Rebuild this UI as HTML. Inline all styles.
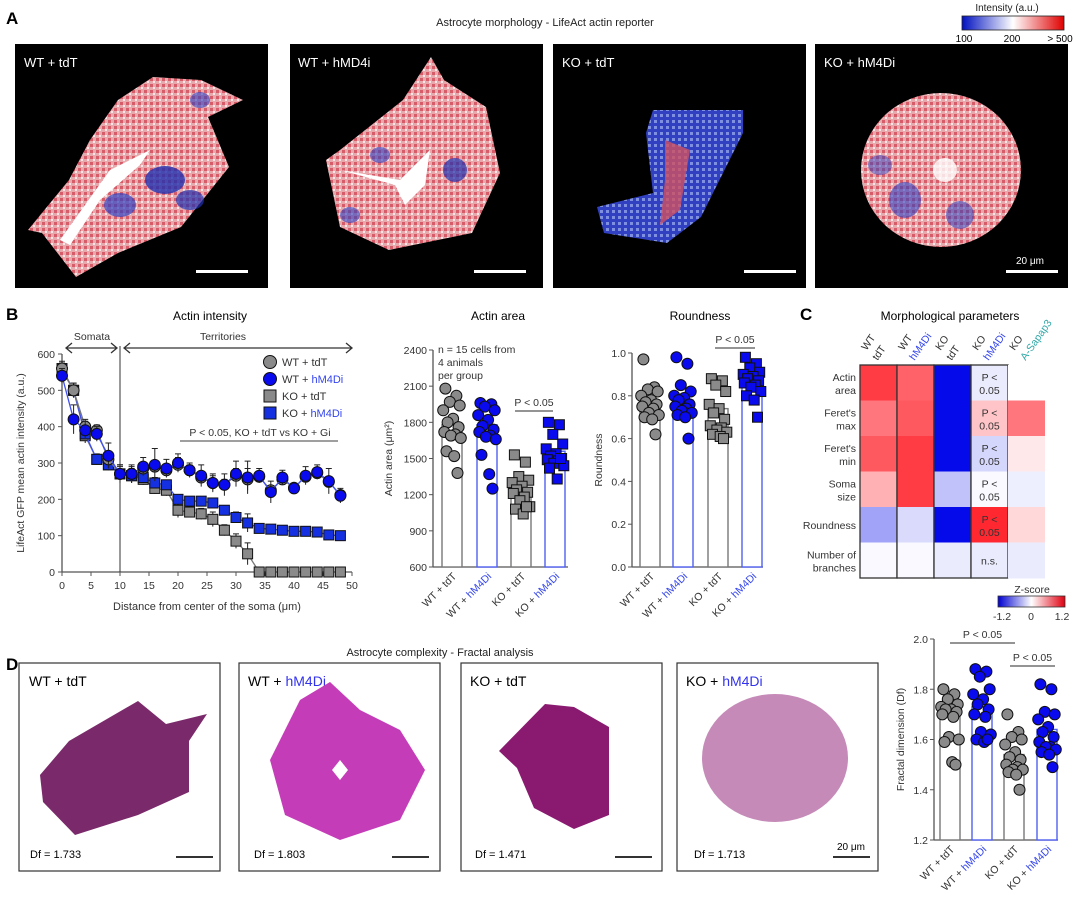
<!DOCTYPE html>
<html><head><meta charset="utf-8"><style>
body{margin:0;background:#fff;}
svg{display:block;font-family:"Liberation Sans",Arial,sans-serif;}
</style></head><body>
<svg id="fig" width="1080" height="909" viewBox="0 0 1080 909" xmlns="http://www.w3.org/2000/svg">
<defs>
<linearGradient id="intGrad" x1="0" x2="1"><stop offset="0" stop-color="#0010c0"/><stop offset="0.5" stop-color="#ffffff"/><stop offset="1" stop-color="#e00000"/></linearGradient>
<linearGradient id="zGrad" x1="0" x2="1"><stop offset="0" stop-color="#0000d0"/><stop offset="0.5" stop-color="#ffffff"/><stop offset="1" stop-color="#e00010"/></linearGradient>
<pattern id="actinPat" width="6" height="6" patternUnits="userSpaceOnUse"><rect width="6" height="6" fill="#e8a8ac"/><rect x="0" y="0" width="3" height="3" fill="#d55c68"/><rect x="3" y="3" width="2" height="2" fill="#f6e6e8"/></pattern>
<pattern id="bluePat" width="6" height="6" patternUnits="userSpaceOnUse"><rect width="6" height="6" fill="#3040c0"/><rect x="0" y="0" width="3" height="3" fill="#8090e0"/></pattern>
</defs>

<!-- Panel A -->
<g>
<text x="6" y="24" font-size="17" font-weight="bold">A</text>
<text x="545" y="26" font-size="11" text-anchor="middle" fill="#222">Astrocyte morphology - LifeAct actin reporter</text>
<text x="1007" y="11" font-size="10" text-anchor="middle" fill="#222">Intensity (a.u.)</text>
<rect x="962" y="16" width="102" height="14" fill="url(#intGrad)" stroke="#222" stroke-width="0.8"/>
<text x="964" y="42" font-size="10" text-anchor="middle">100</text>
<text x="1012" y="42" font-size="10" text-anchor="middle">200</text>
<text x="1060" y="42" font-size="10" text-anchor="middle">&gt; 500</text>

<rect x="15" y="44" width="253" height="244" fill="#000"/>
<rect x="290" y="44" width="253" height="244" fill="#000"/>
<rect x="553" y="44" width="253" height="244" fill="#000"/>
<rect x="815" y="44" width="253" height="244" fill="#000"/>
<text x="24" y="67" font-size="13" fill="#fff">WT + tdT</text>
<text x="298" y="67" font-size="13" fill="#fff">WT + hMD4i</text>
<text x="562" y="67" font-size="13" fill="#fff">KO + tdT</text>
<text x="824" y="67" font-size="13" fill="#fff">KO + hM4Di</text>

<g>
<polygon points="28,230 69,180 90,140 118,100 153,77 201,80 243,100 208,117 229,167 181,227 118,253 76,277 42,233" fill="url(#actinPat)"/>
<ellipse cx="165" cy="180" rx="20" ry="14" fill="#2030b0" opacity="0.8"/>
<ellipse cx="120" cy="205" rx="16" ry="12" fill="#3040c0" opacity="0.7"/>
<ellipse cx="190" cy="200" rx="14" ry="10" fill="#2030b0" opacity="0.7"/>
<ellipse cx="200" cy="100" rx="10" ry="8" fill="#3040c0" opacity="0.6"/>
<path d="M60,240 L110,170 L150,150 L140,165 L100,200 L70,245Z" fill="#fff"/>
</g>
<g>
<polygon points="326,160 340,150 403,100 431,57 444,80 486,107 500,173 472,233 389,250 340,227" fill="url(#actinPat)"/>
<ellipse cx="455" cy="170" rx="12" ry="12" fill="#2030b0" opacity="0.7"/>
<ellipse cx="380" cy="155" rx="10" ry="8" fill="#3040c0" opacity="0.6"/>
<ellipse cx="350" cy="215" rx="10" ry="8" fill="#3040c0" opacity="0.6"/>
<path d="M340,170 L400,180 L430,150 L425,185 L405,205 L395,185Z" fill="#fff"/>
</g>
<g>
<polygon points="653,110 743,110 743,133 701,217 667,243 604,233 597,207 653,193 646,133" fill="url(#bluePat)"/>
<path d="M665,140 L690,150 L680,210 L660,225 L665,180Z" fill="#d05060" opacity="0.8"/>
</g>
<g>
<ellipse cx="941" cy="170" rx="80" ry="77" fill="url(#actinPat)"/>
<ellipse cx="905" cy="200" rx="16" ry="18" fill="#3040c0" opacity="0.6"/>
<ellipse cx="960" cy="215" rx="14" ry="14" fill="#3040c0" opacity="0.55"/>
<ellipse cx="880" cy="165" rx="12" ry="10" fill="#3040c0" opacity="0.5"/>
<ellipse cx="945" cy="170" rx="12" ry="12" fill="#fff" opacity="0.8"/>
</g>
<rect x="196" y="270" width="52" height="3" fill="#fff"/>
<rect x="474" y="270" width="52" height="3" fill="#fff"/>
<rect x="744" y="270" width="52" height="3" fill="#fff"/>
<rect x="1006" y="270" width="52" height="3" fill="#fff"/>
<text x="1030" y="264" font-size="10" fill="#fff" text-anchor="middle">20 μm</text>
</g>

<!-- Panel labels B, C, D -->
<text x="6" y="320" font-size="17" font-weight="bold">B</text>
<text x="800" y="320" font-size="17" font-weight="bold">C</text>
<text x="6" y="670" font-size="17" font-weight="bold">D</text>

<g id="lineChart"></g>
<g id="areaChart"></g>
<g id="roundChart"></g>
<g id="heatmap"></g>
<g id="fractalChart"></g>

<!-- Panel D images -->
<g>
<text x="440" y="656" font-size="11" text-anchor="middle" fill="#222">Astrocyte complexity - Fractal analysis</text>
<rect x="19" y="663" width="201" height="208" fill="#fff" stroke="#333" stroke-width="1.2"/>
<rect x="239" y="663" width="201" height="208" fill="#fff" stroke="#333" stroke-width="1.2"/>
<rect x="461" y="663" width="201" height="208" fill="#fff" stroke="#333" stroke-width="1.2"/>
<rect x="677" y="663" width="201" height="208" fill="#fff" stroke="#333" stroke-width="1.2"/>
<text x="29" y="686" font-size="14">WT + tdT</text>
<text x="248" y="686" font-size="14">WT + <tspan fill="#3333ee">hM4Di</tspan></text>
<text x="470" y="686" font-size="14">KO + tdT</text>
<text x="686" y="686" font-size="14">KO + <tspan fill="#3333ee">hM4Di</tspan></text>
<polygon points="40,775 69,741 138,701 166,724 207,714 189,741 189,792 138,815 75,835 43,802" fill="#7a2a6a"/>
<g>
<path d="M270,760 L300,700 L330,682 L360,710 L400,730 L425,770 L400,820 L340,840 L285,815Z" fill="#c53cb8"/>
<polygon points="340,760 348,770 340,780 332,770" fill="#fff"/>
</g>
<polygon points="499,751 545,704 574,707 609,727 609,815 574,829 534,808 517,768" fill="#8a1a70"/>
<ellipse cx="775" cy="758" rx="73" ry="64" fill="#c58ab8"/>
<text x="30" y="858" font-size="11">Df = 1.733</text>
<text x="254" y="858" font-size="11">Df = 1.803</text>
<text x="475" y="858" font-size="11">Df = 1.471</text>
<text x="694" y="858" font-size="11">Df = 1.713</text>
<rect x="176" y="856" width="37" height="2" fill="#333"/>
<rect x="392" y="856" width="37" height="2" fill="#333"/>
<rect x="615" y="856" width="37" height="2" fill="#333"/>
<rect x="833" y="856" width="37" height="2" fill="#333"/>
<text x="851" y="850" font-size="10" text-anchor="middle">20 μm</text>
</g>
</svg>
<script>
// ---------- Data: line chart ----------
const distances = [0,2,4,6,8,10,12,14,16,18,20,22,24,26,28,30,32,34,36,38,40,42,44,46,48];
const wtTdt   = [560,500,400,390,310,270,270,285,290,280,295,280,260,245,240,265,255,262,225,255,232,262,272,248,212];
const wtHm4di = [540,420,390,380,320,270,270,290,295,285,300,280,265,245,240,270,260,265,220,260,230,265,275,250,210];
const koTdt   = [555,500,375,310,295,270,265,255,230,225,170,165,160,145,115,85,50,0,0,0,0,0,0,0,0];
const koHm4di = [560,500,380,310,295,270,265,260,245,240,200,195,195,190,170,150,135,120,118,115,112,112,110,102,100];
const wtHm4diErr = [20,40,25,20,35,25,25,25,45,25,25,20,30,25,30,35,45,20,30,20,15,25,20,35,20];
const koTdtErr = [20,20,20,15,15,25,20,15,15,15,20,15,15,20,15,20,30,0,0,0,0,0,0,0,0];
const koHm4diErr = [15,15,15,12,12,20,15,12,15,12,10,10,10,10,8,15,25,8,8,6,6,6,6,6,6];
const lineYTicks = [0,100,200,300,400,500,600];
const lineXTicks = [0,5,10,15,20,25,30,35,40,45,50];

// ---------- Data: bar/scatter charts ----------
const groups = ["WT + tdT","WT + hM4Di","KO + tdT","KO + hM4Di"];
const areaMeans = [1780,1780,1230,1560];
const areaWtTdt = [2080,2020,1970,1940,1900,1830,1800,1760,1720,1700,1690,1670,1560,1520,1380];
const areaWtHm4di = [1960,1950,1930,1900,1860,1820,1770,1740,1720,1690,1680,1660,1530,1370,1250];
const areaKoTdt = [1530,1470,1350,1320,1300,1270,1240,1220,1210,1180,1150,1100,1080,1040,1100];
const areaKoHm4di = [1800,1780,1700,1620,1580,1540,1520,1500,1490,1480,1460,1440,1420,1330,1500];
const areaTicks = [600,900,1200,1500,1800,2100,2400];

const roundMeans = [0.75,0.78,0.74,0.87];
const roundWtTdt = [0.97,0.84,0.83,0.82,0.80,0.78,0.77,0.76,0.75,0.74,0.72,0.71,0.70,0.69,0.62];
const roundWtHm4di = [0.98,0.95,0.85,0.82,0.80,0.79,0.78,0.76,0.75,0.74,0.73,0.72,0.71,0.70,0.60];
const roundKoTdt = [0.88,0.87,0.85,0.82,0.76,0.74,0.72,0.69,0.66,0.65,0.64,0.63,0.62,0.61,0.60];
const roundKoHm4di = [0.98,0.95,0.93,0.91,0.90,0.89,0.88,0.87,0.86,0.85,0.84,0.82,0.80,0.78,0.70];
const roundTicks = [0.0,0.2,0.4,0.6,0.8,1.0];

const fracMeans = [1.69,1.73,1.54,1.64];
const fracWtTdt = [1.80,1.78,1.76,1.74,1.73,1.72,1.72,1.71,1.70,1.69,1.61,1.60,1.59,1.51,1.50];
const fracWtHm4di = [1.88,1.87,1.85,1.80,1.78,1.76,1.74,1.72,1.70,1.69,1.63,1.62,1.60,1.59,1.60];
const fracKoTdt = [1.70,1.63,1.61,1.60,1.58,1.55,1.53,1.52,1.50,1.49,1.48,1.48,1.47,1.46,1.40];
const fracKoHm4di = [1.82,1.80,1.71,1.70,1.68,1.65,1.63,1.61,1.59,1.57,1.57,1.56,1.55,1.54,1.49];
const fracTicks = [1.2,1.4,1.6,1.8,2.0];

// ---------- Data: heatmap ----------
const hmColumns = [["WT","tdT"],["WT","hM4Di"],["KO","tdT"],["KO","hM4Di"],["KO","A-Sapap3"]];
const hmRows = [["Actin","area"],["Feret's","max"],["Feret's","min"],["Soma","size"],["Roundness"],["Number of","branches"]];
const zWtTdt = [1.0,0.7,0.85,0.4,-0.45,-0.03];
const zWtHm4di = [0.8,0.85,1.0,1.0,-0.18,-0.03];
const zKoTdt = [-1.2,-1.2,-1.2,-0.3,-1.2,-0.1];
const zKoHm4di = [-0.1,0.3,-0.2,-0.03,1.1,-0.1];
const zKoSapap3 = [0.0,0.7,0.12,-0.08,0.2,-0.1];
const hmCellText = ["P <\n0.05","P <\n0.05","P <\n0.05","P <\n0.05","P <\n0.05","n.s."];

const NS = "http://www.w3.org/2000/svg";
function mk(parent, tag, attrs, text){
  const e = document.createElementNS(NS, tag);
  for (const k in attrs) e.setAttribute(k, attrs[k]);
  if (text !== undefined) e.textContent = text;
  parent.appendChild(e);
  return e;
}
const BLUE = "#0a0aee", GRAY = "#8a8a8a", LBLUE="#4050ee";

// ---------- Line chart ----------
(function(){
  const g = document.getElementById("lineChart");
  const x = v => 62 + v/50*290;
  const y = v => 572 - v/600*218;
  let el;
  el = mk(g,"text",{x:210,y:320,"font-size":12,"text-anchor":"middle"},"Actin intensity");
  
  
  el = mk(g,"line",{x1:62,y1:354,x2:62,y2:572,stroke:"#555","stroke-width":1.3});
  
  
  el = mk(g,"line",{x1:62,y1:572,x2:352,y2:572,stroke:"#555","stroke-width":1.3});
  
  
  lineYTicks.forEach(t=>{
    el = mk(g,"line",{x1:58,y1:y(t),x2:62,y2:y(t),stroke:"#555"});
    
    
    el = mk(g,"text",{x:55,y:y(t)+4,"font-size":10.5,"text-anchor":"end",fill:"#333"},t);
    
    
  });
  lineXTicks.forEach(t=>{
    el = mk(g,"line",{x1:x(t),y1:572,x2:x(t),y2:576,stroke:"#555"});
    
    
    el = mk(g,"text",{x:x(t),y:589,"font-size":10.5,"text-anchor":"middle",fill:"#333"},t);
    
    
  });
  el = mk(g,"text",{x:207,y:610,"font-size":11,"text-anchor":"middle",fill:"#333"},"Distance from center of the soma (μm)");
  
  
  el = mk(g,"text",{x:0,y:0,"font-size":10.5,"text-anchor":"middle",fill:"#333",transform:"translate(24,463) rotate(-90)"},"LifeAct GFP mean actin intensity (a.u.)");
  
  
  el = mk(g,"line",{x1:x(10),y1:346,x2:x(10),y2:572,stroke:"#333","stroke-width":1});
  
  
  el = mk(g,"path",{d:`M66,348 L117,348 M72,343 L66,348 L72,353 M111,343 L117,348 L111,353`,stroke:"#333",fill:"none","stroke-width":1.3});
  
  
  el = mk(g,"text",{x:92,y:340,"font-size":10.5,"text-anchor":"middle",fill:"#333"},"Somata");
  
  
  el = mk(g,"path",{d:`M124,348 L352,348 M130,343 L124,348 L130,353 M346,343 L352,348 L346,353`,stroke:"#333",fill:"none","stroke-width":1.3});
  
  
  el = mk(g,"text",{x:223,y:340,"font-size":10.5,"text-anchor":"middle",fill:"#333"},"Territories");
  
  
  el = mk(g,"line",{x1:180,y1:441,x2:338,y2:441,stroke:"#666","stroke-width":1.3});
  
  
  el = mk(g,"text",{x:260,y:436,"font-size":10.5,"text-anchor":"middle",fill:"#333"},"P < 0.05, KO + tdT vs KO + Gi");
  
  

  const series = [
    {d:koTdt,e:koTdtErr,sq:true,c:GRAY,lc:"#777",name:"ko-tdt"},
    {d:koHm4di,e:koHm4diErr,sq:true,c:"#1530e0",lc:LBLUE,name:"ko-hm4di"},
    {d:wtTdt,e:koTdtErr,sq:false,c:GRAY,lc:"#777",name:"wt-tdt"},
    {d:wtHm4di,e:wtHm4diErr,sq:false,c:BLUE,lc:LBLUE,name:"wt-hm4di"}
  ];
  series.forEach(s=>{
    const pts = distances.map((d,i)=>x(d)+","+y(s.d[i])).join(" ");
    el = mk(g,"polyline",{points:pts,fill:"none",stroke:s.lc,"stroke-width":1.3});
    
    
    distances.forEach((d,i)=>{
      const err = s.e[i];
      if (err>0){
        el = mk(g,"path",{d:`M${x(d)},${y(s.d[i]-err)} L${x(d)},${y(s.d[i]+err)} M${x(d)-3},${y(s.d[i]+err)} L${x(d)+3},${y(s.d[i]+err)}`,stroke:"#222","stroke-width":1,fill:"none"});
        
        
      }
      if (s.sq){
        el = mk(g,"rect",{x:x(d)-5,y:y(s.d[i])-5,width:10,height:10,fill:s.c,stroke:"#111","stroke-width":1});
      } else {
        el = mk(g,"circle",{cx:x(d),cy:y(s.d[i]),r:5.5,fill:s.c,stroke:"#111","stroke-width":1});
      }
      
      
    });
  });
  const leg = [["WT + tdT",false,GRAY],["WT + hM4Di",false,BLUE],["KO + tdT",true,GRAY],["KO + hM4Di",true,"#1530e0"]];
  leg.forEach((L,i)=>{
    const ly = 362 + i*17;
    if (L[1]) el = mk(g,"rect",{x:264,y:ly-6,width:12,height:12,fill:L[2],stroke:"#111"});
    else el = mk(g,"circle",{cx:270,cy:ly,r:6.5,fill:L[2],stroke:"#111"});
    
    
    const parts = L[0].split(" + ");
    el = mk(g,"text",{x:282,y:ly+4,"font-size":11,fill:"#333"});
    
    
    mk(el,"tspan",{},parts[0]+" + ");
    mk(el,"tspan",{fill:parts[1]==="hM4Di"?"#3344ee":"#333"},parts[1]);
  });
})();

// ---------- Bar + scatter charts ----------
const jitter = [-6,4,-2,7,-8,1,-4,6,-7,3,-1,8,-5,2,5];
function barChart(gid, cfg){
  const g = document.getElementById(gid);
  const y = v => cfg.y0 - (v-cfg.min)/(cfg.max-cfg.min)*(cfg.y0-cfg.y1);
  let el;
  if (cfg.title){
    el = mk(g,"text",{x:cfg.titleX,y:320,"font-size":12,"text-anchor":"middle"},cfg.title);
    
    
  }
  el = mk(g,"line",{x1:cfg.ax,y1:cfg.y1,x2:cfg.ax,y2:cfg.y0,stroke:"#555","stroke-width":1.3});
  
  
  el = mk(g,"line",{x1:cfg.ax,y1:cfg.y0,x2:cfg.axEnd,y2:cfg.y0,stroke:"#555","stroke-width":1.3});
  
  
  cfg.ticks.forEach(t=>{
    el = mk(g,"line",{x1:cfg.ax-4,y1:y(t),x2:cfg.ax,y2:y(t),stroke:"#555"});
    
    
    el = mk(g,"text",{x:cfg.ax-6,y:y(t)+4,"font-size":10.5,"text-anchor":"end",fill:"#333"},cfg.fmt(t));
    
    
  });
  el = mk(g,"text",{x:0,y:0,"font-size":10.5,"text-anchor":"middle",fill:"#333",transform:`translate(${cfg.ylx},${(cfg.y0+cfg.y1)/2}) rotate(-90)`},cfg.ylabel);
  
  
  cfg.data.forEach((arr,i)=>{
    const cx = cfg.bx[i];
    const blue = i%2===1;
    el = mk(g,"rect",{x:cx-10,y:y(cfg.means[i]),width:20,height:cfg.y0-y(cfg.means[i]),fill:"#fff",stroke:blue?"#5060f0":"#777","stroke-width":1.4});
    
    
    arr.forEach((v,j)=>{
      const px = cx + jitter[j]*cfg.js;
      const fill = blue ? BLUE : GRAY;
      if (cfg.sq[i]) el = mk(g,"rect",{x:px-5,y:y(v)-5,width:10,height:10,fill:fill,stroke:"#111","stroke-width":1});
      else el = mk(g,"circle",{cx:px,cy:y(v),r:5.5,fill:fill,stroke:"#111","stroke-width":1});
      
      
    });
    const parts = groups[i].split(" + ");
    el = mk(g,"text",{x:0,y:0,"font-size":10.5,"text-anchor":"end",fill:"#333",transform:`translate(${cx+5},${cfg.y0+10}) rotate(-45)`});
    
    
    mk(el,"tspan",{},parts[0]+" + ");
    mk(el,"tspan",{fill:parts[1]==="hM4Di"?"#3344ee":"#333"},parts[1]);
  });
  cfg.sig.forEach(s=>{
    el = mk(g,"line",{x1:s[0],y1:s[2],x2:s[1],y2:s[2],stroke:"#555","stroke-width":1.3});
    
    
    el = mk(g,"text",{x:(s[0]+s[1])/2,y:s[2]-5,"font-size":10.5,"text-anchor":"middle",fill:"#333"},"P < 0.05");
    
    
  });
}
barChart("areaChart",{title:"Actin area",titleX:498,min:600,max:2400,y0:567,y1:350,ax:433,axEnd:568,bx:[452,487,521,555],
  means:areaMeans,data:[areaWtTdt,areaWtHm4di,areaKoTdt,areaKoHm4di],sq:[false,false,true,true],ticks:areaTicks,fmt:t=>t,
  ylabel:"Actin area (μm²)",ylx:392,js:1.1,sig:[[515,553,411]]});
barChart("roundChart",{title:"Roundness",titleX:700,min:0,max:1,y0:567,y1:353,ax:632,axEnd:763,bx:[650,683,718,752],
  means:roundMeans,data:[roundWtTdt,roundWtHm4di,roundKoTdt,roundKoHm4di],sq:[false,false,true,true],ticks:roundTicks,fmt:t=>t.toFixed(1),
  ylabel:"Roundness",ylx:602,js:1.1,sig:[[715,755,348]]});
barChart("fractalChart",{title:null,min:1.2,max:2.0,y0:840,y1:639,ax:934,axEnd:1058,bx:[950,982,1014,1047],
  means:fracMeans,data:[fracWtTdt,fracWtHm4di,fracKoTdt,fracKoHm4di],sq:[false,false,false,false],ticks:fracTicks,fmt:t=>t.toFixed(1),
  ylabel:"Fractal dimension (Df)",ylx:904,js:1.1,sig:[[950,1015,643],[1010,1055,666]]});
// n = 15 annotation
(function(){
  const g = document.getElementById("areaChart");
  ["n = 15 cells from","4 animals","per group"].forEach((t,i)=>{
    const el = mk(g,"text",{x:438,y:353+i*13,"font-size":10.5,fill:"#333"},t);
    
    
  });
})();

// ---------- Heatmap ----------
(function(){
  const g = document.getElementById("heatmap");
  const cols = [zWtTdt,zWtHm4di,zKoTdt,zKoHm4di,zKoSapap3];
  const x0 = 860, cw = 37, y0 = 365, rh = 35.5;
  function col(z){
    const t = Math.max(-1,Math.min(1,z/1.2));
    let r,gg,b;
    if (t>=0){ r=255; gg=Math.round(255-t*235); b=Math.round(255-t*225); }
    else { const u=-t; r=Math.round(255-u*250); gg=Math.round(255-u*245); b=Math.round(255-u*20); }
    return `rgb(${r},${gg},${b})`;
  }
  let el;
  el = mk(g,"text",{x:950,y:320,"font-size":12,"text-anchor":"middle"},"Morphological parameters");
  
  
  cols.forEach((c,ci)=>{
    c.forEach((z,ri)=>{
      el = mk(g,"rect",{x:x0+ci*cw,y:y0+ri*rh,width:cw,height:rh+0.5,fill:col(z)});
      
      
    });
    if (ci<4){
      el = mk(g,"rect",{x:x0+ci*cw,y:y0,width:cw,height:rh*6,fill:"none",stroke:"#333","stroke-width":1.3});
      
      
    }
    const hx = x0+ci*cw+cw/2;
    el = mk(g,"text",{x:0,y:0,"font-size":10.5,"text-anchor":"start",fill:"#333",transform:`translate(${hx-12},${y0-14}) rotate(-55)`},hmColumns[ci][0]);
    
    
    el = mk(g,"text",{x:0,y:0,"font-size":10.5,"text-anchor":"start",fill:ci===1||ci===3?"#3344ee":(ci===4?"#30a8a8":"#333"),transform:`translate(${hx-1},${y0-4}) rotate(-55)`},hmColumns[ci][1]);
    
    
  });
  hmRows.forEach((r,ri)=>{
    const cy = y0+ri*rh+rh/2;
    r.forEach((t,k)=>{
      const off = r.length===1 ? 4 : (k===0?-2:11);
      el = mk(g,"text",{x:856,y:cy+off,"font-size":10.5,"text-anchor":"end",fill:"#333"},t);
      
      
    });
    const lines = hmCellText[ri].split("\n");
    lines.forEach((t,k)=>{
      const off = lines.length===1 ? 4 : (k===0?-2:11);
      el = mk(g,"text",{x:x0+3*cw+cw/2,y:cy+off,"font-size":10.5,"text-anchor":"middle",fill:"#333"},t);
      
      
    });
  });
  el = mk(g,"text",{x:1032,y:593,"font-size":10.5,"text-anchor":"middle",fill:"#333"},"Z-score");
  
  
  el = mk(g,"rect",{x:998,y:596,width:67,height:11,fill:"url(#zGrad)",stroke:"#333","stroke-width":0.8});
  
  
  [["-1.2",1002],["0",1031],["1.2",1062]].forEach(p=>{
    el = mk(g,"text",{x:p[1],y:620,"font-size":10.5,"text-anchor":"middle",fill:"#333"},p[0]);
    
    
  });
})();
</script>
</body></html>
